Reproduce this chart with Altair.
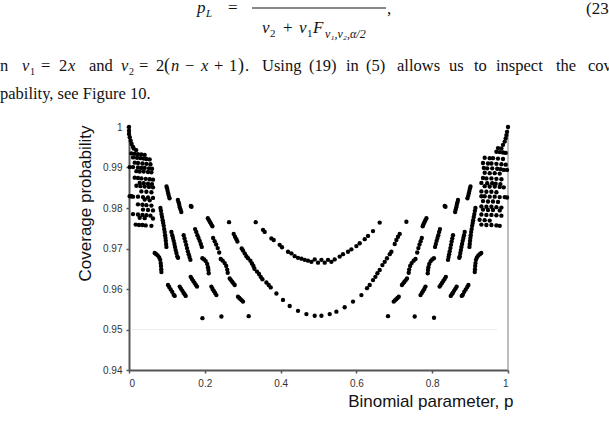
import altair as alt
import pandas as pd

# ---------------------------------------------------------------
# Coverage probability against the binomial parameter p
# ---------------------------------------------------------------

# dense cloud of points next to p = 0
left_cloud_p = [
    0.0, 0.0, 0.0, 0.002, 0.0045, 0.007, 0.0106,
    0.0124, 0.019,
    0.0063, 0.015, 0.0237, 0.0327, 0.0414,
    0.0106, 0.0211, 0.0301, 0.0388, 0.0459, 0.0546,
    0.015, 0.0237, 0.0354, 0.0459, 0.0565,
    0.0018, 0.0106, 0.0237, 0.0327, 0.0414, 0.0528, 0.0607,
    0.0195, 0.0282, 0.0388, 0.0501, 0.0591,
    0.015, 0.0237, 0.0327, 0.0441, 0.0546, 0.0633,
    0.0282, 0.0388, 0.0501, 0.0607,
    0.0195, 0.0301, 0.0414, 0.0528, 0.0633,
    0.0327, 0.0459, 0.0591,
    0.0018, 0.0063, 0.0106, 0.0237, 0.0369, 0.0501, 0.0633,
    0.0414, 0.0546,
    0.0237, 0.0354, 0.0459, 0.0591,
    0.0369, 0.0501, 0.0633,
    0.0106, 0.0237, 0.0354, 0.0459, 0.0565,
    0.0282, 0.0414, 0.0633,
    0.0177, 0.0264, 0.0354, 0.0441, 0.0591,
]
left_cloud_cov = [
    1.0, 0.9991, 0.9983, 0.9975, 0.9966, 0.9958, 0.9951,
    0.9947, 0.9943,
    0.9935, 0.9934, 0.9933, 0.9932, 0.9931,
    0.9925, 0.9924, 0.9923, 0.9922, 0.9921, 0.9920,
    0.9912, 0.9911, 0.9910, 0.9909, 0.9908,
    0.9901, 0.9901, 0.9900, 0.9899, 0.9899, 0.9898, 0.9897,
    0.9891, 0.9890, 0.9890, 0.9889, 0.9888,
    0.9875, 0.9874, 0.9873, 0.9872, 0.9871, 0.9870,
    0.9862, 0.9861, 0.9860, 0.9859,
    0.9855, 0.9854, 0.9853, 0.9852, 0.9851,
    0.9841, 0.9840, 0.9839,
    0.9829, 0.9829, 0.9828, 0.9828, 0.9827, 0.9826, 0.9825,
    0.9821, 0.9819,
    0.9809, 0.9808, 0.9807, 0.9806,
    0.9796, 0.9795, 0.9794,
    0.9785, 0.9784, 0.9783, 0.9782, 0.9781,
    0.9776, 0.9775, 0.9774,
    0.9759, 0.9758, 0.9758, 0.9757, 0.9756,
]

# arcs and isolated runs between the cloud and the central curves (p < 0.35)
left_arcs_p = [
    0.099, 0.1005, 0.102, 0.1035, 0.105, 0.107,
    0.129, 0.131, 0.1325, 0.134, 0.136, 0.138,
    0.163, 0.165,
    0.0829, 0.0844, 0.0858, 0.0873, 0.0889, 0.0902, 0.0916,
    0.0929, 0.0942, 0.0953, 0.0963, 0.0971, 0.0979, 0.0987,
    0.1119, 0.114, 0.1161, 0.1179, 0.1198, 0.1214, 0.1232, 0.1251, 0.1272, 0.1293,
    0.1443, 0.1465, 0.1487, 0.1509, 0.153, 0.1552, 0.1574, 0.1596, 0.162,
    0.1745, 0.1775, 0.1805, 0.1835, 0.1865, 0.1895, 0.192,
    0.208, 0.211, 0.214, 0.217, 0.22,
    0.264,
    0.222, 0.226, 0.23, 0.234, 0.238,
    0.0678, 0.0718, 0.0757, 0.0797, 0.0823, 0.0836, 0.0844, 0.085, 0.0855,
    0.1937, 0.1984, 0.2024, 0.2063, 0.2084, 0.2095, 0.2103,
    0.242, 0.2472, 0.2525, 0.2565, 0.2591, 0.2604,
    0.1029, 0.1061, 0.11, 0.114, 0.1179, 0.1206,
    0.1338, 0.137, 0.1405, 0.1438, 0.1468, 0.1496,
    0.1628, 0.166, 0.1695, 0.173, 0.1765, 0.1794,
    0.2174, 0.2205, 0.2238, 0.2272, 0.2306,
    0.2657, 0.269, 0.2723, 0.2757, 0.2789,
    0.2876, 0.291, 0.2943, 0.2976, 0.3008,
    0.1937, 0.2438, 0.3158,
]
left_arcs_cov = [
    0.9853, 0.9848, 0.9842, 0.9836, 0.9830, 0.9824,
    0.9820, 0.9814, 0.9808, 0.9802, 0.9796, 0.9790,
    0.9805, 0.9803,
    0.9800, 0.9793, 0.9785, 0.9778, 0.9770, 0.9763, 0.9756,
    0.9748, 0.9741, 0.9733, 0.9726, 0.9719, 0.9711, 0.9704,
    0.9741, 0.9733, 0.9726, 0.9719, 0.9711, 0.9704, 0.9696, 0.9689, 0.9681, 0.9677,
    0.9733, 0.9725, 0.9717, 0.9709, 0.9701, 0.9693, 0.9686, 0.9679, 0.9672,
    0.9748, 0.9741, 0.9733, 0.9726, 0.9719, 0.9711, 0.9704,
    0.9775, 0.9770, 0.9765, 0.9760, 0.9755,
    0.9765,
    0.9726, 0.9718, 0.9710, 0.9701, 0.9690,
    0.9689, 0.9686, 0.9683, 0.9678, 0.9672, 0.9664, 0.9657, 0.9649, 0.9642,
    0.9676, 0.9673, 0.9669, 0.9662, 0.9654, 0.9647, 0.9639,
    0.9674, 0.9670, 0.9664, 0.9657, 0.9648, 0.9640,
    0.9610, 0.9605, 0.9599, 0.9593, 0.9586, 0.9583,
    0.9606, 0.9601, 0.9596, 0.9591, 0.9587, 0.9583,
    0.9630, 0.9625, 0.9620, 0.9615, 0.9610, 0.9606,
    0.9606, 0.9600, 0.9595, 0.9590, 0.9585,
    0.9626, 0.9622, 0.9618, 0.9614, 0.9610,
    0.9581, 0.9578, 0.9575, 0.9572, 0.9569,
    0.9528, 0.9532, 0.9533,
]

# lower U-shaped run, minimum near 0.953 at p = 0.5
lower_curve_p = [
    0.2763, 0.2797, 0.2834, 0.286, 0.2974, 0.3008, 0.3053, 0.3098, 0.314,
    0.3203, 0.3245, 0.3282, 0.3309, 0.3377, 0.343, 0.3475, 0.352, 0.3625,
    0.3686, 0.3739, 0.3889, 0.4063, 0.424, 0.4459, 0.4681, 0.49,
    0.5077, 0.5296, 0.5472, 0.5691, 0.591, 0.6132, 0.628, 0.6351, 0.6438,
    0.6501, 0.6554, 0.6615, 0.6686, 0.6747, 0.6807, 0.6879, 0.6923, 0.7011,
    0.7055, 0.7098, 0.7142,
]
lower_curve_cov = [
    0.9736, 0.9729, 0.9723, 0.9717, 0.9700, 0.9695, 0.9688, 0.9681, 0.9676,
    0.9670, 0.9663, 0.9657, 0.9650, 0.9643, 0.9637, 0.9630, 0.9624, 0.9616,
    0.9610, 0.9604, 0.9589, 0.9573, 0.9558, 0.9546, 0.9538, 0.9534,
    0.9534, 0.9538, 0.9544, 0.9555, 0.9569, 0.9585, 0.9602, 0.9610, 0.9622,
    0.9630, 0.9639, 0.9647, 0.9659, 0.9667, 0.9676, 0.9686, 0.9692, 0.9711,
    0.9721, 0.9729, 0.9736,
]

# upper U-shaped run, minimum near 0.9665 at p = 0.5
upper_curve_p = [
    0.3343, 0.3536, 0.358, 0.3757, 0.3818, 0.3976, 0.4037, 0.4195, 0.4285,
    0.4372, 0.4459, 0.4549, 0.4636, 0.4723, 0.4813, 0.49, 0.4987,
    0.5077, 0.5164, 0.5251, 0.534, 0.5427, 0.5559, 0.5646, 0.5778, 0.5868,
    0.6, 0.6087, 0.6219, 0.6306, 0.6438, 0.6615,
]
upper_curve_cov = [
    0.9765, 0.9746, 0.9741, 0.9725, 0.9721, 0.9709, 0.9703, 0.9692, 0.9688,
    0.9681, 0.9677, 0.9675, 0.9672, 0.9670, 0.9667, 0.9673, 0.9665,
    0.9672, 0.9665, 0.9672, 0.9667, 0.9673, 0.9680, 0.9686, 0.9692, 0.9698,
    0.9706, 0.9713, 0.9723, 0.9731, 0.9743, 0.9764,
]

# arcs and isolated runs for p > 0.65
right_arcs_p = [
    0.901, 0.8995, 0.898, 0.8965, 0.895, 0.893,
    0.868, 0.8665, 0.865, 0.8635, 0.862, 0.8605,
    0.833, 0.835,
    0.9141, 0.9126, 0.9112, 0.9097, 0.9081, 0.9068, 0.9054,
    0.9041, 0.9028, 0.9017, 0.9007, 0.8999, 0.8991, 0.8983,
    0.8857, 0.884, 0.8822, 0.8805, 0.8788, 0.8772, 0.8757, 0.8742, 0.8728, 0.8715,
    0.8549, 0.853, 0.8513, 0.8496, 0.8479, 0.8462, 0.8447, 0.8432, 0.8417,
    0.8205, 0.8183, 0.8161, 0.8139, 0.8117, 0.8095, 0.8075,
    0.7847, 0.782, 0.7795, 0.777, 0.775,
    0.7319,
    0.7725, 0.7695, 0.7665, 0.7635, 0.7605,
    0.9295, 0.9257, 0.9218, 0.918, 0.9155, 0.9142, 0.9134, 0.9128, 0.9123,
    0.8045, 0.8, 0.796, 0.7922, 0.79, 0.789, 0.7882,
    0.756, 0.751, 0.7458, 0.7418, 0.7392, 0.738,
    0.8955, 0.8925, 0.8885, 0.8845, 0.8808, 0.878,
    0.8645, 0.8615, 0.858, 0.8548, 0.8518, 0.849,
    0.836, 0.8328, 0.8293, 0.8258, 0.8223, 0.8195,
    0.7822, 0.7792, 0.7759, 0.7725, 0.7692,
    0.7335, 0.7302, 0.7268, 0.7235, 0.7202,
    0.7118, 0.7085, 0.7052, 0.7018, 0.6985,
    0.6834, 0.7538, 0.8048,
]
right_arcs_cov = [
    0.9853, 0.9848, 0.9842, 0.9836, 0.9830, 0.9824,
    0.9820, 0.9814, 0.9808, 0.9802, 0.9796, 0.9790,
    0.9805, 0.9803,
    0.9800, 0.9793, 0.9785, 0.9778, 0.9770, 0.9763, 0.9756,
    0.9748, 0.9741, 0.9733, 0.9726, 0.9719, 0.9711, 0.9704,
    0.9741, 0.9733, 0.9726, 0.9719, 0.9711, 0.9704, 0.9696, 0.9689, 0.9681, 0.9677,
    0.9733, 0.9725, 0.9717, 0.9709, 0.9701, 0.9693, 0.9686, 0.9679, 0.9672,
    0.9748, 0.9741, 0.9733, 0.9726, 0.9719, 0.9711, 0.9704,
    0.9775, 0.9770, 0.9765, 0.9760, 0.9755,
    0.9766,
    0.9726, 0.9718, 0.9710, 0.9701, 0.9690,
    0.9689, 0.9686, 0.9683, 0.9678, 0.9672, 0.9664, 0.9657, 0.9649, 0.9642,
    0.9676, 0.9673, 0.9669, 0.9662, 0.9654, 0.9647, 0.9639,
    0.9674, 0.9670, 0.9664, 0.9657, 0.9648, 0.9640,
    0.9610, 0.9605, 0.9599, 0.9593, 0.9586, 0.9583,
    0.9606, 0.9601, 0.9596, 0.9591, 0.9587, 0.9583,
    0.9630, 0.9625, 0.9620, 0.9615, 0.9610, 0.9606,
    0.9606, 0.9600, 0.9595, 0.9590, 0.9585,
    0.9626, 0.9622, 0.9618, 0.9614, 0.9610,
    0.9581, 0.9578, 0.9575, 0.9572, 0.9569,
    0.9533, 0.9532, 0.9529,
]

# dense cloud of points next to p = 1
right_cloud_p = [
    1.0, 0.9974, 0.9958, 0.9939, 0.9913, 0.9868,
    0.9736, 0.9826,
    0.9694, 0.9781, 0.9868, 0.9939,
    0.9385, 0.9517, 0.9604, 0.9736, 0.9868,
    0.934, 0.9472, 0.9562, 0.9694, 0.9826, 0.9939,
    0.9362, 0.9451, 0.9583, 0.9715, 0.9803, 0.9887, 0.9974,
    0.9385, 0.9517, 0.9649, 0.9781,
    0.934, 0.943, 0.9562, 0.9694, 0.9826,
    0.9298, 0.9451, 0.9583, 0.9675, 0.9799,
    0.9385, 0.9517, 0.9649, 0.9781, 0.9887,
    0.9298, 0.943, 0.9562, 0.9694,
    0.9298, 0.9385, 0.9517, 0.9649, 0.9781, 0.9913, 0.9974,
    0.934, 0.9472, 0.9604, 0.9736,
    0.9298, 0.943, 0.9562, 0.9694, 0.9826,
    0.934, 0.9472, 0.9604, 0.9781,
    0.9298, 0.943, 0.9562, 0.9694, 0.9826,
    0.9251, 0.9385, 0.9517,
    0.9298, 0.943, 0.9562, 0.9694, 0.9781,
]
right_cloud_cov = [
    1.0, 0.9988, 0.9980, 0.9972, 0.9964, 0.9956,
    0.9948, 0.9947,
    0.9939, 0.9938, 0.9937, 0.9936,
    0.9924, 0.9923, 0.9923, 0.9922, 0.9921,
    0.9911, 0.9910, 0.9910, 0.9909, 0.9908, 0.9907,
    0.9899, 0.9898, 0.9898, 0.9897, 0.9896, 0.9894, 0.9894,
    0.9887, 0.9886, 0.9886, 0.9885,
    0.9874, 0.9873, 0.9873, 0.9872, 0.9871,
    0.9862, 0.9861, 0.9861, 0.9860, 0.9859,
    0.9854, 0.9853, 0.9853, 0.9852, 0.9851,
    0.9841, 0.9840, 0.9840, 0.9839,
    0.9829, 0.9829, 0.9828, 0.9828, 0.9827, 0.9827, 0.9826,
    0.9817, 0.9816, 0.9816, 0.9815,
    0.9804, 0.9803, 0.9803, 0.9802, 0.9801,
    0.9796, 0.9795, 0.9795, 0.9794,
    0.9784, 0.9783, 0.9783, 0.9782, 0.9781,
    0.9771, 0.9770, 0.9769,
    0.9759, 0.9758, 0.9758, 0.9757, 0.9756,
]

x_ticks = [0, 0.2, 0.4, 0.6, 0.8, 1]
y_ticks = [0.94, 0.95, 0.96, 0.97, 0.98, 0.99, 1.0]
nominal_level = 0.95

# ---------------------------------------------------------------
groups = [
    (left_cloud_p, left_cloud_cov),
    (left_arcs_p, left_arcs_cov),
    (lower_curve_p, lower_curve_cov),
    (upper_curve_p, upper_curve_cov),
    (right_arcs_p, right_arcs_cov),
    (right_cloud_p, right_cloud_cov),
]
rows = []
for ps, cs in groups:
    for p, c in zip(ps, cs):
        rows.append({"p": p, "cov": c})
points_df = pd.DataFrame(rows)

W, H = 379, 243          # plot area
LEFT, TOP = 129, 127     # plot area offset on the page
PAGE_W, PAGE_H = 609, 447

SANS = "Liberation Sans"
SERIF = "Liberation Serif"

x_enc = alt.X(
    "p:Q",
    scale=alt.Scale(domain=[0, 1], nice=False, zero=False),
    axis=alt.Axis(
        values=x_ticks, format="~g", grid=False,
        labelFont=SANS, labelFontSize=10, labelColor="#333", labelPadding=5,
        domainColor="#555", domainWidth=2, tickColor="#555", tickWidth=1.5, tickSize=3,
        title="Binomial parameter, p", titleFont=SANS, titleFontSize=17,
        titleFontWeight="normal", titleColor="#111",
        titleAnchor="end", titleAlign="right", titleBaseline="alphabetic",
        titleX=384, titleY=36,
    ),
)
y_enc = alt.Y(
    "cov:Q",
    scale=alt.Scale(domain=[0.94, 1.0], nice=False, zero=False),
    axis=alt.Axis(
        values=y_ticks, format=".2~f", grid=False,
        labelFont=SANS, labelFontSize=10, labelColor="#333", labelPadding=4,
        domainColor="#555", domainWidth=2, tickColor="#555", tickWidth=1.5, tickSize=3,
        title="Coverage probability", titleFont=SANS, titleFontSize=17,
        titleFontWeight="normal", titleColor="#111",
        titleAngle=-90, titleAlign="center", titleBaseline="alphabetic",
        titleX=-39, titleY=76,
    ),
)

points = alt.Chart(points_df).mark_circle(size=19, color="#000", opacity=1).encode(
    x=x_enc, y=y_enc
)

one = pd.DataFrame({"k": [0]})

# faint reference line at the nominal level
nominal = alt.Chart(one).mark_rule(color="#ececec", strokeWidth=1).encode(
    y=alt.datum(nominal_level), x=alt.value(3), x2=alt.value(368)
)

# right-hand frame of the plot area
frame = alt.Chart(one).mark_rule(color="#a8a8a8", strokeWidth=1.5).encode(
    x=alt.value(W), y=alt.value(0), y2=alt.value(H)
)


def word(txt, px, py, size=16.5, style="normal", align="left"):
    return alt.Chart(one).mark_text(
        text=txt, align=align, baseline="alphabetic", font=SERIF,
        fontSize=size, fontStyle=style, color="#111",
    ).encode(x=alt.value(px - LEFT), y=alt.value(py - TOP))


# equation (23): numerator row runs off the top edge of the page
F0, F1 = 13, 33
formula = [
    word("p", 197, F0, 17, "italic"),
    word("L", 206, F0 + 4, 11, "italic"),
    word("=", 228, F0, 17),
    word(",", 387, F0 + 1, 17),
    word("(23)", 586, F0 + 1, 17),
    word("v", 262, F1, 17, "italic"),
    word("2", 270, F1 + 4, 11),
    word("+", 283, F1, 17),
    word("v", 299, F1, 17, "italic"),
    word("1", 307, F1 + 4, 11),
    word("F", 313, F1, 17, "italic"),
    word("v\u2081,v\u2082,\u03b1/2", 325, F1 + 5, 12, "italic"),
]
bar = alt.Chart(one).mark_rule(color="#111", strokeWidth=1).encode(
    x=alt.value(252 - LEFT), x2=alt.value(386 - LEFT), y=alt.value(F0 - 5 - TOP)
)

# body text
L1, L2 = 71, 99
body = [
    word("n", 0, L1),
    word("v", 22, L1, style="italic"), word("1", 30, L1 + 4, 10),
    word("=", 41, L1), word("2", 59, L1), word("x", 68, L1, style="italic"),
    word("and", 89, L1),
    word("v", 121, L1, style="italic"), word("2", 129, L1 + 4, 10),
    word("=", 139, L1), word("2", 156, L1), word("(", 164, L1, 18),
    word("n", 171, L1, style="italic"), word("\u2212", 185, L1),
    word("x", 201, L1, style="italic"), word("+", 214, L1), word("1", 229, L1),
    word(")", 238, L1, 18), word(".", 245, L1),
    word("Using", 262, L1), word("(19)", 309, L1), word("in", 346, L1),
    word("(5)", 366, L1), word("allows", 397, L1), word("us", 449, L1),
    word("to", 474, L1), word("inspect", 496, L1), word("the", 556, L1),
    word("coverage", 588, L1),
    word("pability, see Figure 10.", 0, L2),
]

chart = alt.layer(nominal, frame, points, bar, *formula, *body).properties(
    width=W,
    height=H,
    autosize=alt.AutoSizeParams(type="none"),
    padding={"left": LEFT, "top": TOP, "right": PAGE_W - LEFT - W, "bottom": PAGE_H - TOP - H},
    background="white",
).configure_view(stroke=None)

chart.save("out.html", embed_options={"renderer": "svg", "actions": False})
